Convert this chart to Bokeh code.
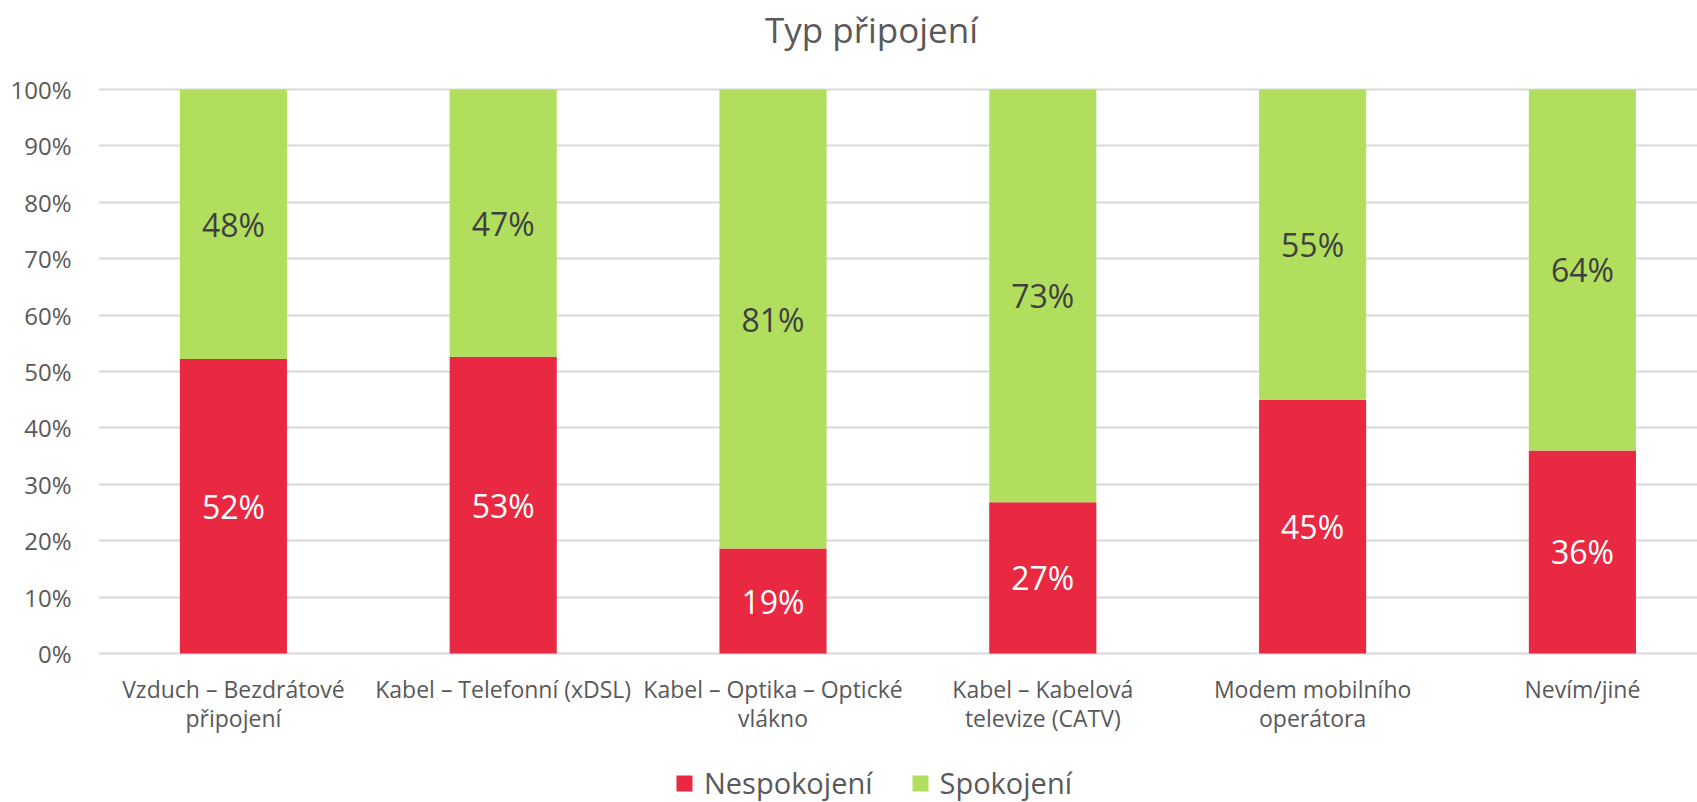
from bokeh.plotting import figure
from bokeh.models import (Range1d, FixedTicker, PrintfTickFormatter, ColumnDataSource,
                          Legend, LegendItem, Label)
from bokeh.embed import file_html
from bokeh.resources import INLINE
from bokeh.core.properties import value

# ---- data ----
title_text = "Typ připojení"
categories = [
    "Vzduch – Bezdrátové\npřipojení",
    "Kabel – Telefonní (xDSL)",
    "Kabel – Optika – Optické\nvlákno",
    "Kabel – Kabelová\ntelevize (CATV)",
    "Modem mobilního\noperátora",
    "Nevím/jiné",
]
nespokojeni = [52.2, 52.6, 18.6, 26.8, 45.0, 36.0]
spokojeni = [47.8, 47.4, 81.4, 73.2, 55.0, 64.0]
series_names = ["Nespokojení", "Spokojení"]
y_ticks = [0, 10, 20, 30, 40, 50, 60, 70, 80, 90, 100]

# ---- styles / layout ----
FONT = "Open Sans"
RED = "#E92842"
GREEN = "#B1DF5D"
TEXT = "#595959"
DARK = "#404040"
GRID = "#D9D9D9"

W, H = 1697, 802            # canvas
FRAME_LEFT = 98             # px where the plot area starts
PX_TOP, PX_ZERO = 89, 653   # px of the 100 % and 0 % lines
CAT_STEP = 269.8            # px between categories
px_per_unit = (PX_ZERO - PX_TOP) / 100.0
y_lo = -(H - PX_ZERO) / px_per_unit
y_hi = 100 + PX_TOP / px_per_unit
x_lo = -0.5
x_hi = x_lo + (W - FRAME_LEFT) / CAT_STEP


def y_at(py):
    return y_hi - py / px_per_unit


def x_at(px):
    return x_lo + (px - FRAME_LEFT) / CAT_STEP


x = list(range(len(categories)))
src = ColumnDataSource(dict(
    x=x,
    nes=nespokojeni,
    spo=spokojeni,
    nes_mid=[v / 2 for v in nespokojeni],
    spo_mid=[n + s / 2 for n, s in zip(nespokojeni, spokojeni)],
    nes_lbl=[f"{round(v)}%" for v in nespokojeni],
    spo_lbl=[f"{round(v)}%" for v in spokojeni],
    cat=categories,
    cat_y=[y_at(672)] * len(categories),
))

p = figure(
    frame_width=W - FRAME_LEFT, frame_height=H,
    x_range=Range1d(x_lo, x_hi), y_range=Range1d(y_lo, y_hi),
    output_backend="svg", toolbar_location=None, title_location=None,
    min_border_left=FRAME_LEFT, min_border_right=0, min_border_top=0, min_border_bottom=0,
)

p.outline_line_color = None
p.background_fill_color = "white"
p.border_fill_color = "white"

renderers = p.vbar_stack(["nes", "spo"], x="x", width=0.397, source=src,
                         fill_color=[RED, GREEN], line_color=None)

p.text(x="x", y="nes_mid", text="nes_lbl", source=src, text_align="center",
       text_baseline="middle", text_color="white", text_font=value(FONT),
       text_font_size="32px")
p.text(x="x", y="spo_mid", text="spo_lbl", source=src, text_align="center",
       text_baseline="middle", text_color=DARK, text_font=value(FONT),
       text_font_size="32px")

# category labels under the bars
p.text(x="x", y="cat_y", text="cat", source=src, text_align="center",
       text_baseline="top", text_color=TEXT, text_font=value(FONT),
       text_font_size="23px", text_line_height=0.93)

# title
p.add_layout(Label(x=x_at(871), y=y_at(29), text=title_text, text_align="center",
                   text_baseline="middle", text_font=FONT, text_font_size="35px",
                   text_color=TEXT))

# grid
p.xgrid.visible = False
p.ygrid.ticker = FixedTicker(ticks=y_ticks)
p.ygrid.grid_line_color = GRID
p.ygrid.grid_line_width = 2
p.ygrid.level = "underlay"

# y axis
p.yaxis.ticker = FixedTicker(ticks=y_ticks)
p.yaxis.formatter = PrintfTickFormatter(format="%d%%")
p.yaxis.axis_line_color = None
p.yaxis.major_tick_line_color = None
p.yaxis.minor_tick_line_color = None
p.yaxis.major_label_standoff = 21
p.yaxis.major_label_text_font = FONT
p.yaxis.major_label_text_font_size = "24px"
p.yaxis.major_label_text_color = TEXT

p.xaxis.visible = False

legend = Legend(
    items=[LegendItem(label=series_names[i], renderers=[renderers[i]]) for i in range(2)],
    orientation="horizontal", location=(576, 0),
    glyph_width=20, glyph_height=20, label_standoff=10, spacing=37,
    padding=0, margin=0, border_line_color=None, background_fill_alpha=0,
    label_text_font=FONT, label_text_font_size="29px", label_text_color=TEXT,
    label_text_line_height=1.0,
)
p.add_layout(legend, "center")

open("out.html", "w").write(file_html(p, INLINE))
